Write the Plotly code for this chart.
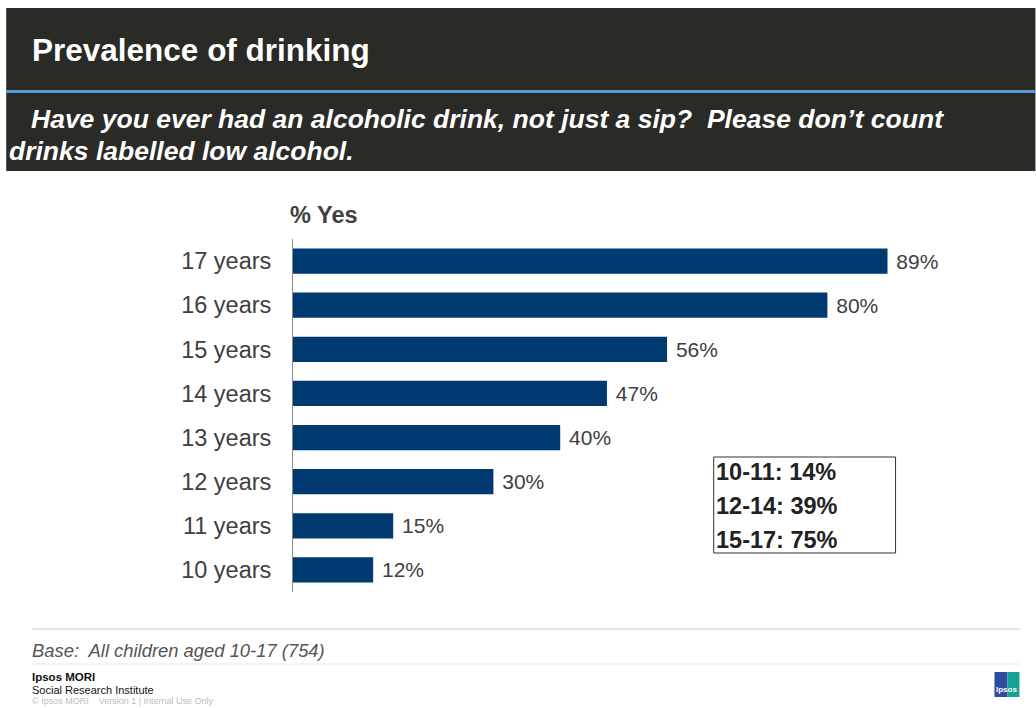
import plotly.graph_objects as go

# Survey results: share of children who have ever had an alcoholic drink
ages = ["10 years", "11 years", "12 years", "13 years", "14 years", "15 years", "16 years", "17 years"]
pct_yes = [12, 15, 30, 40, 47, 56, 80, 89]
group_labels = ["10-11", "12-14", "15-17"]
group_pct = [14, 39, 75]

W, H = 1036, 708
L, R, T, B = 293, 74.5, 239, 116
PW, PH = W - L - R, H - T - B

BAR = "#003A70"
TXT = "#404040"
FONT = "Liberation Sans, Arial, sans-serif"


def px(x):
    return (x - L) / PW


def py(y):
    return (H - B - y) / PH


fig = go.Figure(
    go.Bar(
        x=pct_yes,
        y=ages,
        orientation="h",
        marker=dict(color=BAR, line=dict(width=0)),
        text=[f"\u00a0{v}%" for v in pct_yes],
        textposition="outside",
        textfont=dict(size=21, color=TXT, family=FONT),
        cliponaxis=False,
        width=0.57,
    )
)

shapes = [
    # header band and its blue rule
    dict(type="rect", xref="paper", yref="paper", x0=px(6), x1=px(1036), y0=py(8), y1=py(171),
         fillcolor="#2A2A26", line=dict(width=0), layer="below"),
    dict(type="rect", xref="paper", yref="paper", x0=px(6), x1=px(1036), y0=py(90), y1=py(93),
         fillcolor="#5B9BD5", line=dict(width=0)),
    # summary box
    dict(type="rect", xref="paper", yref="paper", x0=px(714), x1=px(896), y0=py(457), y1=py(553),
         fillcolor="white", line=dict(color="#333333", width=1)),
    # footer rules
    dict(type="line", xref="paper", yref="paper", x0=px(32), x1=px(1020), y0=py(629), y1=py(629),
         line=dict(color="#C8C8C8", width=1)),
    dict(type="line", xref="paper", yref="paper", x0=px(32), x1=px(1020), y0=py(664), y1=py(664),
         line=dict(color="#E6E6E6", width=1)),
    # logo
    dict(type="rect", xref="paper", yref="paper", x0=px(995), x1=px(1008), y0=py(672), y1=py(697),
         fillcolor="#2F4A9E", line=dict(width=0)),
    dict(type="rect", xref="paper", yref="paper", x0=px(1008), x1=px(1020), y0=py(672), y1=py(697),
         fillcolor="#15A196", line=dict(width=0)),
]


def note(text, x, y, size, color, anchor="left"):
    return dict(text=text, xref="paper", yref="paper", x=px(x), y=py(y), xanchor=anchor,
                yanchor="middle", showarrow=False, font=dict(size=size, color=color, family=FONT))


annotations = [
    note("<b>Prevalence of drinking</b>", 30, 50, 31.5, "white"),
    note("<b><i>Have you ever had an alcoholic drink, not just a sip?  Please don\u2019t count</i></b>",
         29, 119, 26.5, "white"),
    note("<b><i>drinks labelled low alcohol.</i></b>", 7, 151, 26.5, "white"),
    note("<b>% Yes</b>", 288, 215, 23.5, TXT),
    note("<i>Base:  All children aged 10-17 (754)</i>", 30, 650, 18.4, "#555555"),
    note("<b>Ipsos MORI</b>", 30, 677, 11.5, "#111111"),
    note("Social Research Institute", 30, 690, 11, "#111111"),
    note("\u00a9 Ipsos MORI    Version 1 | Internal Use Only", 30, 701, 9, "#BBBBBB"),
    note("<b>Ipsos</b>", 1007.5, 689, 8, "white", anchor="center"),
]

for i, (g, v) in enumerate(zip(group_labels, group_pct)):
    annotations.append(note(f"<b>{g}: {v}%</b>", 714, 472 + i * 34, 23.5, "#222222"))

fig.update_layout(
    width=W,
    height=H,
    margin=dict(l=L, r=R, t=T, b=B, pad=0),
    paper_bgcolor="white",
    plot_bgcolor="white",
    showlegend=False,
    shapes=shapes,
    annotations=annotations,
    xaxis=dict(range=[0, 100], visible=False, fixedrange=True),
    yaxis=dict(
        categoryorder="array",
        categoryarray=ages,
        range=[-0.5, 7.5],
        showline=True,
        linecolor="#8C8C8C",
        linewidth=1,
        showgrid=False,
        zeroline=False,
        ticks="",
        ticklabelstandoff=16,
        tickfont=dict(size=23.5, color=TXT, family=FONT),
    ),
)

fig.write_html("out.html")
